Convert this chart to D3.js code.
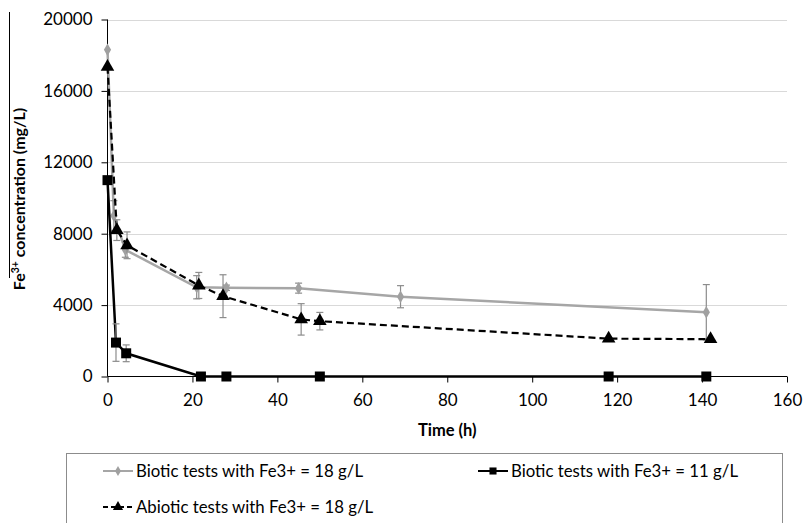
<!DOCTYPE html>
<html><head><meta charset="utf-8">
<script src="https://cdn.jsdelivr.net/npm/d3@7"></script>
<style>
html,body{margin:0;padding:0;background:#fff;}
text{font-family:Lato,"Open Sans",sans-serif;}
</style></head>
<body>
<svg id="chart" width="804" height="523"></svg>
<script>
// ---- data ----
const xTicks = [0, 20, 40, 60, 80, 100, 120, 140, 160];
const yTicks = [0, 4000, 8000, 12000, 16000, 20000];

const bio18Time  = [0, 1.5, 4.2, 21, 28, 45, 69, 141];
const bio18Value = [18300, 9000, 7100, 5000, 4970, 4950, 4470, 3600];
const bio18Err   = [0, 850, 420, 650, 150, 280, 620, 1550];

const bio11Time  = [0, 2, 4.4, 22, 28, 50, 118, 141];
const bio11Value = [11000, 1900, 1300, 0, 0, 0, 0, 0];
const bio11Err   = [0, 1050, 470, 0, 0, 0, 0, 0];

const abioTime  = [0, 2.2, 4.6, 21.5, 27.2, 45.6, 50, 118, 142];
const abioValue = [17350, 8200, 7350, 5100, 4500, 3200, 3100, 2120, 2090];
const abioErr   = [0, 580, 750, 730, 1200, 880, 490, 0, 0];

const seriesNames = ["Biotic tests with Fe3+ = 18 g/L", "Biotic tests with Fe3+ = 11 g/L", "Abiotic tests with Fe3+ = 18 g/L"];

// ---- chart ----
const svg = d3.select("#chart");
const x = d3.scaleLinear().domain([0, 160]).range([107.5, 787]);
const y = d3.scaleLinear().domain([0, 20000]).range([376.5, 19.5]);

// gridlines
svg.append("g").selectAll("line").data(yTicks.filter(d => d > 0)).join("line")
  .attr("x1", x(0)).attr("x2", x(160))
  .attr("y1", d => Math.round(y(d)) + 0.5).attr("y2", d => Math.round(y(d)) + 0.5)
  .attr("stroke", "#d9d9d9").attr("stroke-width", 1);

// axes
const yAxis = svg.append("g").attr("transform", `translate(${x(0)},0)`)
  .call(d3.axisLeft(y).tickValues(yTicks).tickSize(6).tickPadding(9).tickFormat(d3.format("d")));
const xAxis = svg.append("g").attr("transform", `translate(0,${y(0)})`)
  .call(d3.axisBottom(x).tickValues(xTicks).tickSize(6).tickPadding(11).tickFormat(d3.format("d")));
[yAxis, xAxis].forEach(a => {
  a.select(".domain").attr("stroke", "#000").attr("stroke-width", 1);
  a.selectAll(".tick line").attr("stroke", "#000");
  a.selectAll(".tick text").attr("fill", "#000").style("font-size", "17px").style("font-family", "Lato,sans-serif");
});
xAxis.select(".domain").attr("d", `M${x(0)},0H${x(160)}`);
yAxis.select(".domain").attr("d", `M0,${y(20000)}V${y(0)}`);

// axis titles
svg.append("text").attr("x", (x(0) + x(160)) / 2).attr("y", 436)
  .attr("text-anchor", "middle").style("font-size", "16.5px").style("font-weight", "bold")
  .text("Time (h)");
const yl = svg.append("text").attr("transform", "translate(25,199) rotate(-90)")
  .attr("text-anchor", "middle").style("font-size", "16px").style("font-weight", "bold");
yl.append("tspan").text("Fe");
yl.append("tspan").attr("dy", -6).style("font-size", "10.5px").text("3+");
yl.append("tspan").attr("dy", 6).text(" concentration (mg/L)");
svg.append("line").attr("x1", 9.5).attr("x2", 9.5).attr("y1", 12).attr("y2", 278)
  .attr("stroke", "#000").attr("stroke-width", 1);

// helpers
function drawSeries(times, vals, errs, opt) {
  const pts = times.map((t, i) => ({t, v: vals[i], e: errs[i]}));
  const g = svg.append("g");
  g.append("path").datum(pts)
    .attr("d", d3.line().x(d => x(d.t)).y(d => y(d.v)))
    .attr("fill", "none").attr("stroke", opt.color).attr("stroke-width", opt.width)
    .attr("stroke-dasharray", opt.dash || null);
  const eb = g.append("g").selectAll("g").data(pts.filter(d => d.e > 0)).join("g");
  eb.append("line").attr("x1", d => x(d.t)).attr("x2", d => x(d.t))
    .attr("y1", d => y(d.v + d.e)).attr("y2", d => y(d.v - d.e))
    .attr("stroke", "#8c8c8c").attr("stroke-width", 1.2);
  [1, -1].forEach(s => {
    eb.append("line").attr("x1", d => x(d.t) - 3.5).attr("x2", d => x(d.t) + 3.5)
      .attr("y1", d => y(d.v + s * d.e)).attr("y2", d => y(d.v + s * d.e))
      .attr("stroke", "#8c8c8c").attr("stroke-width", 1.2);
  });
  g.append("g").selectAll("path").data(pts).join("path")
    .attr("transform", d => `translate(${x(d.t)},${y(d.v)})`)
    .attr("d", d3.symbol().type(opt.symbol).size(opt.size))
    .attr("fill", opt.mcolor);
}

drawSeries(bio18Time, bio18Value, bio18Err, {color: "#a6a6a6", width: 2.5, symbol: d3.symbolDiamond, size: 45, mcolor: "#a0a0a0"});
drawSeries(abioTime, abioValue, abioErr, {color: "#000", width: 2.2, dash: "7,4", symbol: d3.symbolTriangle, size: 80, mcolor: "#000"});
drawSeries(bio11Time, bio11Value, bio11Err, {color: "#000", width: 2.5, symbol: d3.symbolSquare, size: 100, mcolor: "#000"});

// legend
svg.append("rect").attr("x", 66.5).attr("y", 453.5).attr("width", 716).attr("height", 100)
  .attr("fill", "none").attr("stroke", "#8c8c8c").attr("stroke-width", 1);
const legItems = [
  {name: seriesNames[0], lx: 103, ly: 471, color: "#a6a6a6", dash: null, symbol: d3.symbolDiamond, size: 30, mcolor: "#a0a0a0"},
  {name: seriesNames[1], lx: 478, ly: 471, color: "#000", dash: null, symbol: d3.symbolSquare, size: 50, mcolor: "#000"},
  {name: seriesNames[2], lx: 103, ly: 507, color: "#000", dash: "5,3", symbol: d3.symbolTriangle, size: 45, mcolor: "#000"}
];
const lg = svg.append("g").selectAll("g").data(legItems).join("g");
lg.append("line").attr("x1", d => d.lx).attr("x2", d => d.lx + 30)
  .attr("y1", d => d.ly).attr("y2", d => d.ly)
  .attr("stroke", d => d.color).attr("stroke-width", 2).attr("stroke-dasharray", d => d.dash);
lg.append("path").attr("transform", d => `translate(${d.lx + 15},${d.ly})`)
  .attr("d", d => d3.symbol().type(d.symbol).size(d.size)())
  .attr("fill", d => d.mcolor);
lg.append("text").attr("x", d => d.lx + 33).attr("y", d => d.ly).attr("dy", "0.35em")
  .style("font-size", "16.8px").text(d => d.name);
</script>
</body></html>
